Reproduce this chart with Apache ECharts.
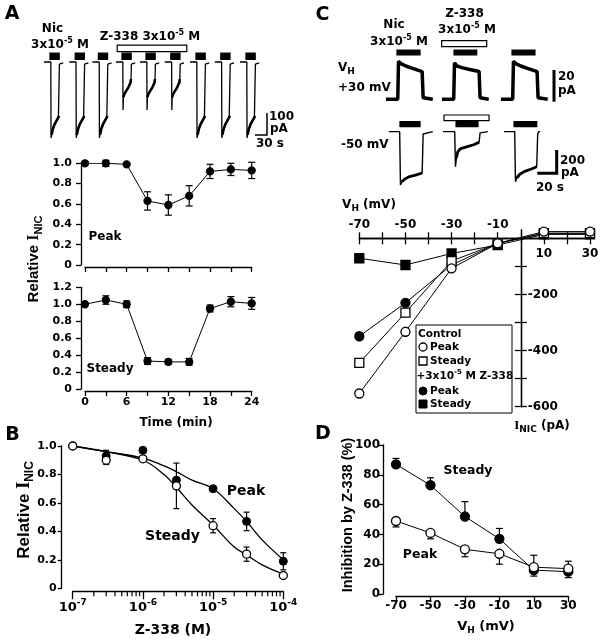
<!DOCTYPE html>
<html>
<head>
<meta charset="utf-8">
<script src="https://cdn.jsdelivr.net/npm/echarts@6/dist/echarts.min.js"></script>
<style>html,body{margin:0;padding:0;background:#fff}#main{width:603px;height:640px}</style>
</head>
<body>
<div id="main"></div>
<script>
// ---- panel A: current traces (time s, current pA) ----
var aOnset = [27, 90, 148, 207, 267, 329, 392, 454, 517];
var aKind = ['c', 'c', 'c', 'z', 'z', 'z', 'c', 'c', 'c'];
var aCtlShape = [[-17,0],[0,0],[0.6,-345],[2,-330],[5,-305],[9,-285],[14,-268],[19,-252],[20.5,-245],[21.5,-10],[23,-4],[31,-4]];
var aZShape = [[-17,0],[0,0],[0.6,-218],[1.5,-160],[4,-145],[9,-130],[14,-115],[19,-95],[20.5,-78],[21.5,-10],[23,-4],[31,-4]];
var aNicApp = [[25,48],[88,111],[146,169],[205,228],[265,288],[327,350],[390,413],[452,475],[515,538]];
var aZApp = [[193,367]];

// ---- panel A: time course ----
var timeMin = [0, 3, 6, 9, 12, 15, 18, 21, 24];
var aPeak = [1.0, 1.0, 0.99, 0.63, 0.59, 0.68, 0.92, 0.94, 0.93];
var aPeakErr = [0, 0.03, 0, 0.09, 0.1, 0.1, 0.07, 0.06, 0.08];
var aSteady = [1.0, 1.05, 1.0, 0.33, 0.32, 0.32, 0.95, 1.03, 1.01];
var aSteadyErr = [0, 0.05, 0.04, 0.04, 0.03, 0.04, 0.04, 0.06, 0.07];

// ---- panel B: concentration response ----
var conc = [1e-7, 3e-7, 1e-6, 3e-6, 1e-5, 3e-5, 1e-4];
var bPeak = [1.0, 0.93, 0.97, 0.76, 0.70, 0.47, 0.19];
var bPeakErr = [0, 0.04, 0, 0, 0, 0.065, 0.06];
var bSteady = [1.0, 0.90, 0.91, 0.72, 0.44, 0.24, 0.09];
var bSteadyErr = [0, 0.03, 0, 0.16, 0.05, 0.05, 0];
var fitConc = [1e-7, 3e-7, 1e-6, 2e-6, 3e-6, 5e-6, 1e-5, 2e-5, 3e-5, 5e-5, 1e-4];
var fitPeak = [1.0, 0.96, 0.915, 0.86, 0.82, 0.76, 0.70, 0.56, 0.47, 0.34, 0.20];
var fitSteady = [1.0, 0.96, 0.90, 0.80, 0.71, 0.585, 0.445, 0.29, 0.235, 0.165, 0.10];
var bMinorTicks = [2e-7,3e-7,4e-7,5e-7,6e-7,7e-7,8e-7,9e-7,2e-6,3e-6,4e-6,5e-6,6e-6,7e-6,8e-6,9e-6,2e-5,3e-5,4e-5,5e-5,6e-5,7e-5,8e-5,9e-5];

// ---- panel C: traces ----
var cOnset30 = [18.7, 76.7, 137.8];
var cKind30 = ['c', 'z', 'c'];
var c30Ctl = [[-12.5,0],[-0.3,0],[0.5,24],[3,22.5],[8,21],[15,19.5],[25,17.5],[26,1],[27,0],[36,0]];
var c30Z = [[-12.5,0],[-0.3,0],[0.5,23],[3,21],[8,20],[15,19],[26,17.5],[27,1],[28,0],[36,0]];
var cApp30 = [[17.6,41.5],[76.7,100.2],[136.8,160.6]];
var cZApp30 = [[63.9,110.6]];
var cOnset50 = [20.7, 77.7, 139.9];
var c50Shapes = [
  [[-11.5,0],[-0.3,0],[0.5,-457],[2,-430],[5,-405],[10,-385],[17,-370],[23,-354],[24,-20],[25,-3],[34,0]],
  [[-12.4,0],[-0.3,0],[0.5,-300],[1.5,-225],[3,-170],[6,-145],[12,-130],[20,-110],[25,-90],[26,-10],[27,0],[34,0]],
  [[-11.4,0],[-0.3,0],[0.5,-429],[2,-395],[5,-365],[10,-340],[17,-320],[22.5,-300],[23.5,-20],[24.5,0],[26,0]]
];
var cApp50 = [[20.7,41.5],[78.8,101.5],[138.9,162.4]];
var cZApp50 = [[66.3,113]];

// ---- panel C: I-V ----
var vh = [-70, -50, -30, -10, 10, 30];
var ivCtlPeak = [-553, -333, -107, -18, 24, 24];
var ivCtlSteady = [-444, -265, -81, -18, 18, 18];
var ivZPeak = [-349, -230, -95, -18, 18, 18];
var ivZSteady = [-71, -95, -54, -24, 14, 14];
var ivXTicks = [-70,-60,-50,-40,-30,-20,-10,10,20,30];
var ivTopLabels = [-70, -50, -30, -10];
var ivBottomLabels = [10, 30];
var ivYTicks = [-600, -500, -400, -300, -200, -100];
var ivYLabels = [-600, -400, -200];

// ---- panel D: inhibition ----
var dSteady = [87, 73, 52, 37, 16, 15];
var dSteadyErrUp = [4, 5, 10, 7, 10, 7];
var dPeak = [49, 41, 30, 27, 18, 17];
var dPeakErrDown = [4, 4, 5, 7, 6, 6];

var FONT = 'DejaVu Sans';
var FONT2 = 'Liberation Sans';
var BLK = '#000';
var myChart = echarts.init(document.getElementById('main'));

function pairs(xs, ys) { return xs.map(function (x, i) { return [x, ys[i]]; }); }
function shift(shape, s) { return shape.map(function (p) { return [p[0] + s, p[1]]; }); }
function zeros(a) { return a.map(function () { return 0; }); }

function hiddenAxis(g, min, max) {
    return { gridIndex: g, type: 'value', min: min, max: max, show: false };
}
function valAxis(g, o) {
    var ax = {
        gridIndex: g, type: 'value', min: o.min, max: o.max, interval: o.interval,
        offset: o.offset || 0, position: o.position,
        axisLine: { show: true, onZero: false, lineStyle: { color: BLK, width: 1.3 } },
        axisTick: { show: true, length: o.tick || 5, lineStyle: { color: BLK, width: 1.3 } },
        axisLabel: {
            show: o.label !== false, inside: !!o.inside, margin: o.margin == null ? 6 : o.margin, color: BLK,
            fontFamily: FONT, fontWeight: 'bold', fontSize: o.fs || 11,
            formatter: o.fmt
        },
        splitLine: { show: false }
    };
    if (o.tickValues) ax.axisTick.customValues = o.tickValues;
    if (o.labelValues) ax.axisLabel.customValues = o.labelValues;
    return ax;
}
function errorBars(g, xs, ys, lo, hi, cap) {
    return {
        type: 'custom', xAxisIndex: g, yAxisIndex: g, silent: true, z: 1,
        data: xs.map(function (x, i) { return [x, ys[i] - lo[i], ys[i] + hi[i], lo[i], hi[i]]; }),
        renderItem: function (params, api) {
            var x = api.value(0);
            var p1 = api.coord([x, api.value(1)]);
            var p2 = api.coord([x, api.value(2)]);
            var ls = { stroke: BLK, lineWidth: 1.2 };
            var kids = [{ type: 'line', shape: { x1: p1[0], y1: p1[1], x2: p2[0], y2: p2[1] }, style: ls }];
            if (api.value(3) > 0) kids.push({ type: 'line', shape: { x1: p1[0] - cap, y1: p1[1], x2: p1[0] + cap, y2: p1[1] }, style: ls });
            if (api.value(4) > 0) kids.push({ type: 'line', shape: { x1: p2[0] - cap, y1: p2[1], x2: p2[0] + cap, y2: p2[1] }, style: ls });
            return { type: 'group', children: kids };
        }
    };
}
function appBars(g, items, yLo, yHi, fill) {
    return {
        type: 'custom', xAxisIndex: g, yAxisIndex: g, silent: true,
        data: items,
        renderItem: function (params, api) {
            var a = api.coord([api.value(0), yHi]);
            var b = api.coord([api.value(1), yLo]);
            return { type: 'rect', shape: { x: a[0], y: a[1], width: b[0] - a[0], height: b[1] - a[1] },
                style: { fill: fill, stroke: BLK, lineWidth: 1.2 } };
        }
    };
}
function traceSeries(g, data, w) {
    return { type: 'line', xAxisIndex: g, yAxisIndex: g, data: data, symbol: 'none', silent: true,
        lineStyle: { color: BLK, width: w } };
}
function markerLine(g, data, shape, open, size) {
    return {
        type: 'line', xAxisIndex: g, yAxisIndex: g, data: data, symbol: shape, symbolSize: size,
        showAllSymbol: true, z: 3,
        lineStyle: { color: BLK, width: 1 },
        itemStyle: { color: open ? '#fff' : BLK, borderColor: BLK, borderWidth: 1.3 }
    };
}
function dot(v) { return v === 0 ? '0' : v.toFixed(1); }

function rs(size, va, lh, fam) {
    return { fontSize: size, fontFamily: fam || FONT, fontWeight: 'bold', verticalAlign: va, lineHeight: lh, fill: BLK };
}
function txt(x, y, text, size, o) {
    o = o || {};
    return {
        type: 'text', x: x, y: y, rotation: o.rot || 0, z: 20, silent: true,
        style: {
            text: text, fontFamily: o.fam || FONT, fontWeight: 'bold', fontSize: size, fill: BLK,
            align: o.align || 'center', verticalAlign: 'middle', lineHeight: o.lh || size + 4,
            rich: {
                sup: rs(Math.round(size * 0.7), 'top', Math.round(size * 0.7)),
                sub: rs(Math.round(size * 0.72), 'bottom', Math.round(size * 0.72), o.fam),
                serif: rs(size + 1, 'middle', o.lh || size + 4, 'Liberation Serif')
            }
        }
    };
}
function poly(points, w) {
    return { type: 'polyline', z: 20, silent: true, shape: { points: points }, style: { stroke: BLK, lineWidth: w, fill: null } };
}

var series = [];
// A traces: thin outline plus a thicker noisy decay
aOnset.forEach(function (s, i) {
    var shape = aKind[i] === 'c' ? aCtlShape : aZShape;
    series.push(traceSeries(0, shift(shape, s), 1.3));
    series.push(traceSeries(0, shift(shape.slice(3, 9), s), 2.6));
});
series.push(appBars(0, aNicApp, 12, 40, BLK));
series.push(appBars(0, aZApp, 47, 77, '#fff'));
// A time course
series.push(errorBars(1, timeMin, aPeak, aPeakErr, aPeakErr, 3.5));
series.push(markerLine(1, pairs(timeMin, aPeak), 'circle', false, 7));
series.push(errorBars(2, timeMin, aSteady, aSteadyErr, aSteadyErr, 3.5));
series.push(markerLine(2, pairs(timeMin, aSteady), 'circle', false, 7));
// B
series.push({ type: 'line', xAxisIndex: 3, yAxisIndex: 3, data: pairs(fitConc, fitPeak), smooth: 0.4, symbol: 'none', lineStyle: { color: BLK, width: 1.3 } });
series.push({ type: 'line', xAxisIndex: 3, yAxisIndex: 3, data: pairs(fitConc, fitSteady), smooth: 0.4, symbol: 'none', lineStyle: { color: BLK, width: 1.3 } });
series.push(errorBars(3, conc, bPeak, bPeakErr, bPeakErr, 3));
series.push(errorBars(3, conc, bSteady, bSteadyErr, bSteadyErr, 3));
series.push({ type: 'scatter', xAxisIndex: 3, yAxisIndex: 3, data: pairs(conc, bPeak), symbolSize: 8, z: 3, itemStyle: { color: BLK, borderColor: BLK, borderWidth: 1, opacity: 1 } });
series.push({ type: 'scatter', xAxisIndex: 3, yAxisIndex: 3, data: pairs(conc, bSteady), symbolSize: 8, z: 4, itemStyle: { color: '#fff', borderColor: BLK, borderWidth: 1.3, opacity: 1 } });
// B minor log ticks (axis sits 3px below the grid, ticks 5px long)
series.push({
    type: 'custom', xAxisIndex: 3, yAxisIndex: 3, silent: true, clip: false,
    data: bMinorTicks.map(function (v) { return [v, 0]; }),
    renderItem: function (params, api) {
        var p = api.coord([api.value(0), 0]);
        return { type: 'line', shape: { x1: p[0], y1: p[1] + 3, x2: p[0], y2: p[1] + 8 }, style: { stroke: BLK, lineWidth: 1.2 } };
    }
});
// C traces
cOnset30.forEach(function (s, i) {
    series.push(traceSeries(4, shift(cKind30[i] === 'c' ? c30Ctl : c30Z, s), 3.5));
});
series.push(appBars(4, cApp30, 28, 31, BLK));
series.push(appBars(4, cZApp30, 33.2, 37, '#fff'));
cOnset50.forEach(function (s, i) {
    series.push(traceSeries(5, shift(c50Shapes[i], s), 1.4));
    series.push(traceSeries(5, shift(c50Shapes[i].slice(3, c50Shapes[i].length - 3), s), 2.8));
});
series.push(appBars(5, cApp50, 43, 86, BLK));
series.push(appBars(5, cZApp50, 94, 143, '#fff'));
// C I-V
series.push(markerLine(6, pairs(vh, ivZSteady), 'rect', false, 9));
series.push(markerLine(6, pairs(vh, ivZPeak), 'circle', false, 9));
series.push(markerLine(6, pairs(vh, ivCtlSteady), 'rect', true, 9));
series.push(markerLine(6, pairs(vh, ivCtlPeak), 'circle', true, 9));
// D
series.push(errorBars(7, vh, dSteady, zeros(vh), dSteadyErrUp, 3.5));
series.push(errorBars(7, vh, dPeak, dPeakErrDown, zeros(vh), 3.5));
series.push(markerLine(7, pairs(vh, dSteady), 'circle', false, 9));
series.push(markerLine(7, pairs(vh, dPeak), 'circle', true, 9));

var supRich = { sup: rs(9, 'top', 9) };
// I-V frame: x -70..30 over 230.7px, y -600..30 over 176.8px; axes cross at (0, 0)
var ivRect = { left: 359.3, top: 229.9, width: 230.7, height: 176.8 };
var ivZeroX = 161.5;   // px from left edge to V = 0
var ivZeroY = 8.4;     // px from top edge to I = 0

function g(r) {
    return { left: r.left, top: r.top, width: r.width, height: r.height, containLabel: false, outerBoundsMode: 'none' };
}

var option = {
    animation: false,
    backgroundColor: '#fff',
    textStyle: { fontFamily: FONT },
    grid: [
        g({ left: 40, top: 42.2, width: 240, height: 103.4 }),
        g({ left: 85, top: 163.3, width: 166.7, height: 101.7 }),
        g({ left: 85, top: 287.3, width: 166.7, height: 101.7 }),
        g({ left: 72.7, top: 446, width: 210.6, height: 142.3 }),
        g({ left: 380, top: 35.9, width: 173.7, height: 71.3 }),
        g({ left: 380, top: 113, width: 173.7, height: 77 }),
        g(ivRect),
        g({ left: 396, top: 445, width: 172.3, height: 149 }),
        g(ivRect)
    ],
    xAxis: [
        hiddenAxis(0, 0, 600),
        valAxis(1, { min: 0, max: 24, interval: 3, offset: 2, label: false }),
        valAxis(2, { min: 0, max: 24, interval: 3, offset: 2, margin: 6, fmt: function (v) { return v % 6 === 0 ? v : ''; } }),
        {
            gridIndex: 3, type: 'log', logBase: 10, min: 1e-7, max: 1e-4, offset: 3, position: 'bottom',
            axisLine: { show: true, onZero: false, lineStyle: { color: BLK, width: 1.3 } },
            axisTick: { show: true, length: 8, lineStyle: { color: BLK, width: 1.3 } },
            axisLabel: {
                margin: 7, color: BLK, fontFamily: FONT, fontWeight: 'bold', fontSize: 13, lineHeight: 18,
                rich: supRich,
                formatter: function (v) { return '10{sup|' + Math.round(Math.log10(v)) + '}'; }
            },
            splitLine: { show: false }
        },
        hiddenAxis(4, 0, 180),
        hiddenAxis(5, 0, 180),
        // I-V bottom side (labels 10, 30), moved up onto I = 0
        valAxis(6, { min: -70, max: 30, interval: 10, position: 'bottom', offset: -(ivRect.height - ivZeroY), tick: 6, margin: 10, fs: 12, tickValues: ivXTicks, labelValues: ivBottomLabels }),
        valAxis(7, { min: -70, max: 30, interval: 20, offset: 2, tick: 6, margin: 4, fs: 12 }),
        // I-V top side (labels -70 ... -10), moved down onto I = 0
        valAxis(8, { min: -70, max: 30, interval: 10, position: 'top', offset: -ivZeroY, tick: 6, margin: 7, fs: 12, tickValues: ivXTicks, labelValues: ivTopLabels })
    ],
    yAxis: [
        hiddenAxis(0, -380, 90),
        valAxis(1, { min: 0, max: 1, interval: 0.2, offset: 4, margin: 9, fmt: dot }),
        valAxis(2, { min: 0, max: 1.2, interval: 0.2, offset: 4, margin: 9, fmt: dot }),
        valAxis(3, { min: 0, max: 1, interval: 0.2, offset: 11, tick: 4, margin: 5, fmt: dot }),
        hiddenAxis(4, -5, 40),
        hiddenAxis(5, -500, 160),
        // I-V right-pointing ticks on V = 0
        valAxis(6, { min: -600, max: 30, interval: 100, position: 'right', offset: -(ivRect.width - ivZeroX), tick: 6, label: false, tickValues: ivYTicks }),
        valAxis(7, { min: 0, max: 100, interval: 20, offset: 13, tick: 5, margin: 3, fs: 12 }),
        // I-V left-pointing ticks on V = 0, labels drawn on the inner (right) side
        valAxis(8, { min: -600, max: 30, interval: 100, position: 'left', offset: -ivZeroX, tick: 6, inside: true, margin: 7, fs: 12, tickValues: ivYTicks, labelValues: ivYLabels })
    ],
    series: series,
    graphic: [
        // panel letters
        txt(12, 14, 'A', 19), txt(12.5, 435, 'B', 19), txt(322.5, 15, 'C', 19), txt(323, 434, 'D', 19),
        // A trace labels
        txt(52.5, 29, 'Nic', 12),
        txt(60, 45, '3x10{sup|-5} M', 12),
        txt(150, 37, 'Z-338 3x10{sup|-5} M', 12),
        poly([[255, 135], [267, 135], [267, 113]], 1.5),
        txt(269, 117, '100', 12, { align: 'left' }),
        txt(270, 129, 'pA', 12, { align: 'left' }),
        txt(270, 144, '30 s', 12),
        // A time course labels
        txt(105, 237, 'Peak', 12),
        txt(110, 369, 'Steady', 12),
        txt(176, 423, 'Time (min)', 12),
        txt(34, 259, 'Relative {serif|I}{sub|NIC}', 15, { rot: Math.PI / 2, fam: FONT2, lh: 20 }),
        // B labels
        txt(246, 491.5, 'Peak', 14),
        txt(172.5, 536, 'Steady', 14),
        txt(173, 630, 'Z-338 (M)', 14),
        txt(24.5, 510, 'Relative {serif|I}{sub|NIC}', 17, { rot: Math.PI / 2, fam: FONT2, lh: 22 }),
        // C trace labels
        txt(394, 25, 'Nic', 12),
        txt(399, 41.5, '3x10{sup|-5} M', 12),
        txt(464.5, 14, 'Z-338', 12),
        txt(467, 30, '3x10{sup|-5} M', 12),
        txt(338, 68, 'V{sub|H}', 12, { align: 'left', lh: 16 }),
        txt(338, 88, '+30 mV', 12, { align: 'left' }),
        txt(341, 145, '-50 mV', 12, { align: 'left' }),
        poly([[554, 70], [554, 101.7]], 3),
        txt(558, 77, '20', 12, { align: 'left' }),
        txt(558, 91, 'pA', 12, { align: 'left' }),
        poly([[537.3, 173.3], [556.7, 173.3], [556.7, 150]], 3),
        txt(560, 161, '200', 12, { align: 'left' }),
        txt(561, 173, 'pA', 12, { align: 'left' }),
        txt(550, 188, '20 s', 12),
        // C I-V labels
        txt(369, 205, 'V{sub|H} (mV)', 12, { lh: 16 }),
        txt(542, 426, '{serif|I}{sub|NIC} (pA)', 12, { lh: 16 }),
        // C legend
        { type: 'rect', z: 15, silent: true, shape: { x: 416, y: 325, width: 96, height: 88 }, style: { fill: '#fff', stroke: BLK, lineWidth: 1 } },
        txt(418, 334, 'Control', 10.5, { align: 'left' }),
        { type: 'circle', z: 20, silent: true, shape: { cx: 423, cy: 347, r: 4 }, style: { fill: '#fff', stroke: BLK, lineWidth: 1.3 } },
        txt(430, 347, 'Peak', 10.5, { align: 'left' }),
        { type: 'rect', z: 20, silent: true, shape: { x: 419, y: 357, width: 8, height: 8 }, style: { fill: '#fff', stroke: BLK, lineWidth: 1.3 } },
        txt(430, 361, 'Steady', 10.5, { align: 'left' }),
        txt(416.5, 376, '+3x10{sup|-5} M Z-338', 10.5, { align: 'left' }),
        { type: 'circle', z: 20, silent: true, shape: { cx: 423, cy: 391, r: 4 }, style: { fill: BLK, stroke: BLK, lineWidth: 1 } },
        txt(430, 391, 'Peak', 10.5, { align: 'left' }),
        { type: 'rect', z: 20, silent: true, shape: { x: 419, y: 400, width: 8, height: 8 }, style: { fill: BLK, stroke: BLK, lineWidth: 1 } },
        txt(430, 404, 'Steady', 10.5, { align: 'left' }),
        // D labels
        txt(468, 471, 'Steady', 12.5),
        txt(420, 554.5, 'Peak', 12.5),
        txt(486, 627, 'V{sub|H} (mV)', 13, { lh: 17 }),
        txt(347.5, 515, 'Inhibition by Z-338 (%)', 14.5, { rot: Math.PI / 2, fam: FONT2 })
    ]
};
myChart.setOption(option);

window.onresize = function () {
    myChart.resize();
};
</script>
</body>
</html>
